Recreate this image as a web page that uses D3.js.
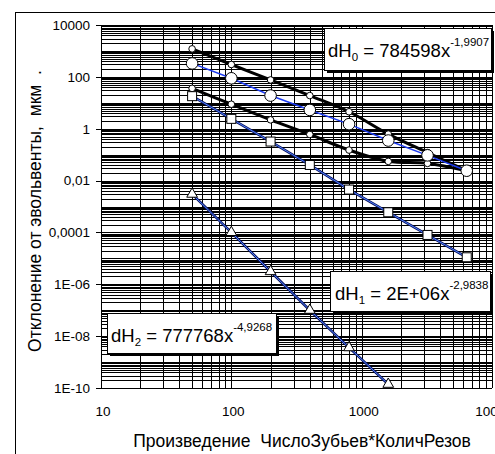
<!DOCTYPE html>
<html>
<meta charset="utf-8">
<head>
    <script src="https://d3js.org/d3.v7.min.js"></script>
    <style>
        body { margin: 0; background: #fff; }
        text { font-family: "Liberation Sans", Arial, sans-serif; fill: #000; }
        .grid line { stroke: #000; stroke-width: 1; shape-rendering: crispEdges; }
        .tick-label { font-size: 13.5px; }
        .axis-title { font-size: 17.5px; }
        .eq { font-size: 18.5px; }
    </style>
</head>
<body>
    <div id="chart"></div>
    <script>
        // x positions of the measured points
        const xs = [50, 100, 200, 400, 800, 1600, 3200, 6400];
        const xsTri = [50, 100, 200, 400, 800, 1600];

        // black smoothed curves
        const upperCurve = [1200, 300, 76, 19, 4.5, 0.62, 0.12, 0.024];
        const lowerCurve = [36, 8.8, 2.2, 0.6, 0.15, 0.055, 0.046, 0.024];

        // series with power trend lines
        const dH0 = [330, 88, 19, 5.3, 1.5, 0.35, 0.094, 0.024];
        const dH1 = [18, 2.4, 0.32, 0.04, 0.0045, 0.0006, 0.00008, 0.000011];
        const dH2 = [0.003, 1e-4, 3.1e-6, 1e-7, 3.6e-9, 1.4e-10];

        const yTicks = [1e4, 1e2, 1, 1e-2, 1e-4, 1e-6, 1e-8, 1e-10];
        const yTickLabels = ["10000", "100", "1", "0,01", "0,0001", "1E-06", "1E-08", "1E-10"];
        const xTicks = [10, 100, 1000, 10000];
        const xTickLabels = ["10", "100", "1000", "10000"];

        const width = 495, height = 454;
        const plotLeft = 101, plotRight = 492, plotTop = 25, plotBottom = 388;

        const svg = d3.select("#chart").append("svg")
            .attr("width", width)
            .attr("height", height);

        svg.append("rect").attr("width", width).attr("height", height).attr("fill", "#fff");

        // outer chart frame (runs off the picture on the right and bottom)
        svg.append("rect")
            .attr("x", 15.5).attr("y", 12.5)
            .attr("width", 600).attr("height", 600)
            .attr("fill", "none").attr("stroke", "#000").attr("stroke-width", 1);

        const x = d3.scaleLog().domain([10, 10000]).range([plotLeft, plotRight]);
        const y = d3.scaleLog().domain([1e-10, 1e4]).range([plotBottom, plotTop]);

        // minor + major grid values
        const xGrid = [];
        for (let d = 10; d < 10000; d *= 10) for (let k = 1; k < 10; k++) xGrid.push(d * k);
        xGrid.push(10000);
        const yGrid = [];
        for (let e = -10; e < 4; e++) for (let k = 1; k < 10; k++) yGrid.push(k * Math.pow(10, e));
        yGrid.push(1e4);

        const grid = svg.append("g").attr("class", "grid");
        grid.selectAll("line.v").data(xGrid).enter().append("line")
            .attr("class", "v")
            .attr("x1", d => Math.round(x(d)) + 0.5).attr("x2", d => Math.round(x(d)) + 0.5)
            .attr("y1", plotTop).attr("y2", plotBottom);
        grid.selectAll("line.h").data(yGrid).enter().append("line")
            .attr("class", "h")
            .attr("y1", d => Math.round(y(d)) + 0.5).attr("y2", d => Math.round(y(d)) + 0.5)
            .attr("x1", plotLeft).attr("x2", plotRight);

        // y tick marks
        grid.selectAll("line.yt").data(yTicks).enter().append("line")
            .attr("class", "yt")
            .attr("x1", plotLeft - 5).attr("x2", plotLeft)
            .attr("y1", d => Math.round(y(d)) + 0.5).attr("y2", d => Math.round(y(d)) + 0.5);

        svg.selectAll("text.ylab").data(yTicks).enter().append("text")
            .attr("class", "tick-label ylab")
            .attr("x", plotLeft - 11)
            .attr("y", d => y(d))
            .attr("dy", "0.36em")
            .attr("text-anchor", "end")
            .text((d, i) => yTickLabels[i]);

        svg.selectAll("text.xlab").data(xTicks).enter().append("text")
            .attr("class", "tick-label xlab")
            .attr("x", d => x(d) + 2)
            .attr("y", plotBottom + 28)
            .attr("text-anchor", "middle")
            .text((d, i) => xTickLabels[i]);

        svg.append("text")
            .attr("class", "axis-title")
            .attr("x", 302).attr("y", 447)
            .attr("text-anchor", "middle")
            .attr("xml:space", "preserve")
            .text("Произведение  ЧислоЗубьев*КоличРезов");

        svg.append("text")
            .attr("class", "axis-title")
            .attr("transform", "translate(41,211) rotate(-90)")
            .attr("text-anchor", "middle")
            .attr("xml:space", "preserve")
            .text("Отклонение от эвольвенты,  мкм  .");

        const line = d3.line().x(d => x(d[0])).y(d => y(d[1]));
        const smooth = d3.line().x(d => x(d[0])).y(d => y(d[1])).curve(d3.curveCatmullRom.alpha(0.5));
        const pts = (xv, yv) => xv.map((v, i) => [v, yv[i]]);

        // black smoothed curves
        [upperCurve, lowerCurve].forEach(s => {
            svg.append("path").attr("d", smooth(pts(xs, s)))
                .attr("fill", "none").attr("stroke", "#000").attr("stroke-width", 3);
        });

        // dH1, dH2: dark series line with blue trend line on top
        [[xs, dH1], [xsTri, dH2]].forEach(([xv, s]) => {
            svg.append("path").attr("d", line(pts(xv, s)))
                .attr("fill", "none").attr("stroke", "#0a1560").attr("stroke-width", 2.6);
            svg.append("path").attr("d", line(pts(xv, s)))
                .attr("fill", "none").attr("stroke", "#4f7fff").attr("stroke-width", 1);
        });
        // dH0 trend line
        svg.append("path").attr("d", line(pts(xs, dH0)))
            .attr("fill", "none").attr("stroke", "#1d3bf0").attr("stroke-width", 1.5);

        // markers
        const mk = { fill: "#fff", stroke: "#000" };
        [upperCurve, lowerCurve].forEach(s => {
            svg.append("g").selectAll("circle").data(pts(xs, s)).enter().append("circle")
                .attr("cx", d => x(d[0])).attr("cy", d => y(d[1])).attr("r", 3.3)
                .attr("fill", mk.fill).attr("stroke", mk.stroke).attr("stroke-width", 1);
        });
        svg.append("g").selectAll("circle").data(pts(xs, dH0)).enter().append("circle")
            .attr("cx", d => x(d[0])).attr("cy", d => y(d[1])).attr("r", 5.8)
            .attr("fill", mk.fill).attr("stroke", mk.stroke).attr("stroke-width", 1);
        svg.append("g").selectAll("rect").data(pts(xs, dH1)).enter().append("rect")
            .attr("x", d => x(d[0]) - 4.5).attr("y", d => y(d[1]) - 4.5)
            .attr("width", 9).attr("height", 9)
            .attr("fill", mk.fill).attr("stroke", mk.stroke).attr("stroke-width", 1);
        const tri = d3.symbol().type(d3.symbolTriangle).size(50);
        svg.append("g").selectAll("path").data(pts(xsTri, dH2)).enter().append("path")
            .attr("d", tri)
            .attr("transform", d => `translate(${x(d[0])},${y(d[1])})`)
            .attr("fill", mk.fill).attr("stroke", mk.stroke).attr("stroke-width", 1);

        // equation boxes
        const boxes = [
            { x: 324, y: 28, w: 167, h: 42, sub: "0", body: " = 784598x", sup: "-1,9907", tx: 328, ty: 57 },
            { x: 330, y: 271, w: 160, h: 40, sub: "1", body: " = 2E+06x", sup: "-2,9838", tx: 335, ty: 300 },
            { x: 107, y: 313, w: 169, h: 40, sub: "2", body: " = 777768x", sup: "-4,9268", tx: 111, ty: 342 }
        ];
        boxes.forEach(b => {
            svg.append("rect").attr("x", b.x + 3).attr("y", b.y + 3).attr("width", b.w).attr("height", b.h)
                .attr("fill", "#000");
            svg.append("rect").attr("x", b.x + 0.5).attr("y", b.y + 0.5).attr("width", b.w).attr("height", b.h)
                .attr("fill", "#fff").attr("stroke", "#000").attr("stroke-width", 1);
            const t = svg.append("text").attr("class", "eq").attr("x", b.tx).attr("y", b.ty)
                .attr("xml:space", "preserve");
            t.append("tspan").text("dH");
            t.append("tspan").attr("font-size", "11.5px").attr("dy", 4).text(b.sub);
            t.append("tspan").attr("dy", -4).text(b.body);
            t.append("tspan").attr("font-size", "11.5px").attr("dy", -11).text(b.sup);
        });
    </script>
</body>
</html>
